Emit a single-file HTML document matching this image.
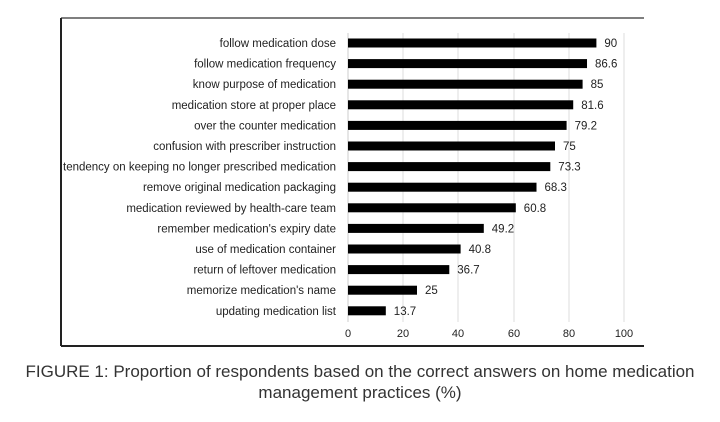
<!DOCTYPE html>
<html><head><style>
body{margin:0;width:720px;height:422px;background:#fff;overflow:hidden;font-family:"Liberation Sans",sans-serif}
svg text{font-family:"Liberation Sans",sans-serif}
.cap{position:absolute;left:0;width:720px;text-align:center;font-size:17px;color:#333;line-height:21px;top:361px}
</style></head><body>
<svg width="720" height="422" style="position:absolute;left:0;top:0">
<line x1="61" y1="18" x2="644" y2="18" stroke="#555" stroke-width="1.5"/>
<line x1="61" y1="18" x2="61" y2="346" stroke="#222" stroke-width="2"/>
<line x1="61" y1="346" x2="644" y2="346" stroke="#222" stroke-width="2"/>
<g stroke="#ddd" stroke-width="1">
<line x1="403" y1="33" x2="403" y2="322"/><line x1="458" y1="33" x2="458" y2="322"/>
<line x1="514" y1="33" x2="514" y2="322"/><line x1="569" y1="33" x2="569" y2="322"/>
<line x1="624" y1="33" x2="624" y2="322"/>
</g>
<line x1="348" y1="33" x2="348" y2="322" stroke="#ccc"/>
<g font-size="11" fill="#222" text-anchor="middle">
<text x="348" y="337">0</text><text x="403" y="337">20</text><text x="458" y="337">40</text>
<text x="514" y="337">60</text><text x="569" y="337">80</text><text x="624" y="337">100</text>
</g>
<g id="bars" font-size="11.5" fill="#222"></g>
</svg>
<div class="cap">FIGURE 1: Proportion of respondents based on the correct answers on home medication<br>management practices (%)</div>
<script>
var d=[["follow medication dose",90],["follow medication frequency",86.6],["know purpose of medication",85],["medication store at proper place",81.6],["over the counter medication",79.2],["confusion with prescriber instruction",75],["tendency on keeping no longer prescribed medication",73.3],["remove original medication packaging",68.3],["medication reviewed by health-care team",60.8],["remember medication's expiry date",49.2],["use of medication container",40.8],["return of leftover medication",36.7],["memorize medication's name",25],["updating medication list",13.7]];
var g=document.getElementById('bars'),s='';
d.forEach(function(r,i){var y=43+i*20.6,w=r[1]*2.76;
s+='<rect x="348" y="'+(y-4.5)+'" width="'+w+'" height="9" fill="#000"/>';
s+='<text x="336" y="'+(y+4)+'" text-anchor="end">'+r[0].replace("'","&#39;")+'</text>';
s+='<text x="'+(348+w+8)+'" y="'+(y+4)+'">'+r[1]+'</text>';});
g.innerHTML=s;
</script>
</body></html>
